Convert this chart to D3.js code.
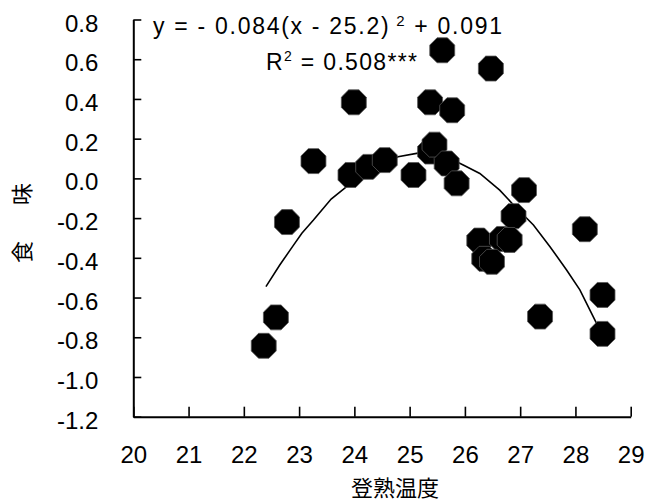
<!DOCTYPE html>
<html>
<head>
<meta charset="utf-8">
<script src="https://cdn.jsdelivr.net/npm/d3@7"></script>
<style>
  body { margin: 0; background: #fff; }
  text { font-family: "Liberation Sans", Arial, sans-serif; fill: #000; }
  .cjk { font-family: "Noto Sans CJK JP", sans-serif; }
</style>
</head>
<body>
<div id="chart"></div>
<script>
// tick values
var xTicks = [20, 21, 22, 23, 24, 25, 26, 27, 28, 29];
var yTicks = [-1.2, -1.0, -0.8, -0.6, -0.4, -0.2, 0.0, 0.2, 0.4, 0.6, 0.8];

// observed points: ripening temperature vs taste
var temperature = [22.36, 22.58, 22.78, 23.26, 23.99, 23.93, 24.25, 24.55, 25.07, 25.37,
                   25.59, 25.77, 25.37, 25.45, 25.67, 25.85, 26.47, 27.07, 26.88, 26.26,
                   26.67, 26.81, 26.35, 26.49, 28.17, 28.49, 27.36, 28.49];
var taste = [-0.843, -0.70, -0.22, 0.087, 0.383, 0.017, 0.058, 0.092, 0.017, 0.383,
             0.645, 0.343, 0.135, 0.17, 0.075, -0.025, 0.553, -0.059, -0.19, -0.313,
             -0.305, -0.31, -0.405, -0.42, -0.256, -0.587, -0.696, -0.783];

// trend line
var trendX = [22.40, 22.65, 22.89, 23.05, 23.26, 23.58, 23.86, 24.21, 24.79, 25.15,
              25.55, 25.97, 26.27, 26.63, 26.88, 27.24, 27.54, 27.84, 28.08, 28.38];
var trendY = [-0.545, -0.436, -0.340, -0.276, -0.210, -0.104, -0.042, 0.027, 0.109, 0.127,
              0.125, 0.067, 0.025, -0.059, -0.134, -0.235, -0.344, -0.461, -0.561, -0.729];

var svgWidth = 646;
var svgHeight = 504;

var svg = d3.select("#chart")
  .append("svg")
  .attr("width", svgWidth)
  .attr("height", svgHeight);

var x = d3.scaleLinear().domain([20, 29]).range([133.3, 630.7]);
var y = d3.scaleLinear().domain([-1.2, 0.8]).range([416.7, 19.5]);

// x axis, ticks pointing up into the plot
var xAxis = svg.append("g")
  .attr("transform", "translate(0," + y(-1.2) + ")")
  .call(d3.axisBottom(x).tickValues(xTicks).tickSize(-10).tickPadding(29).tickSizeOuter(0)
    .tickFormat(d3.format("d")));

// y axis, ticks pointing right
var yAxis = svg.append("g")
  .attr("transform", "translate(" + x(20) + ",0)")
  .call(d3.axisLeft(y).tickValues(yTicks).tickSize(-8).tickPadding(35).tickSizeOuter(0)
    .tickFormat(function(d) { return d.toFixed(1); }));

[xAxis, yAxis].forEach(function(g) {
  g.select(".domain").attr("stroke", "#000").attr("stroke-width", 2);
  g.selectAll(".tick line").attr("stroke", "#000").attr("stroke-width", 1.6);
  g.selectAll(".tick text").attr("font-size", 24).attr("font-family", "Liberation Sans, Arial, sans-serif");
});
yAxis.selectAll(".tick text").attr("dy", "0.48em");

// trend line
var line = d3.line()
  .x(function(d, i) { return x(trendX[i]); })
  .y(function(d, i) { return y(trendY[i]); });

svg.append("path")
  .datum(trendX)
  .attr("d", line)
  .attr("fill", "none")
  .attr("stroke", "#000")
  .attr("stroke-width", 1.6);

// octagon markers
function octagon(r) {
  var pts = [];
  for (var k = 0; k < 8; k++) {
    var a = Math.PI / 8 + k * Math.PI / 4;
    pts.push([r * Math.cos(a), r * Math.sin(a)]);
  }
  return "M" + pts.join("L") + "Z";
}

svg.selectAll(".pt")
  .data(temperature)
  .enter()
  .append("path")
  .attr("class", "pt")
  .attr("transform", function(d, i) { return "translate(" + x(d) + "," + y(taste[i]) + ")"; })
  .attr("d", octagon(13.5))
  .attr("fill", "#000")
  .attr("stroke", "#555")
  .attr("stroke-width", 0.8);

// equation
var eq = svg.append("text")
  .attr("x", 153)
  .attr("y", 34)
  .attr("font-size", 23)
  .attr("textLength", 349)
  .attr("lengthAdjust", "spacing");
eq.append("tspan").text("y =  - 0.084(x - 25.2)");
eq.append("tspan").attr("dy", -8).attr("font-size", 15).text(" 2");
eq.append("tspan").attr("dy", 8).text(" + 0.091");

var r2 = svg.append("text")
  .attr("x", 266)
  .attr("y", 70)
  .attr("font-size", 23)
  .attr("textLength", 151)
  .attr("lengthAdjust", "spacing");
r2.append("tspan").text("R");
r2.append("tspan").attr("dy", -9).attr("font-size", 14).text("2");
r2.append("tspan").attr("dy", 9).text(" = 0.508***");

// axis titles
svg.append("text")
  .attr("class", "cjk")
  .attr("x", 395)
  .attr("y", 496)
  .attr("text-anchor", "middle")
  .attr("font-size", 22)
  .text("登熟温度");

var yTitle = svg.append("text")
  .attr("class", "cjk")
  .attr("transform", "translate(30,0) rotate(-90)")
  .attr("x", -263)
  .attr("y", 0)
  .attr("font-size", 22);
yTitle.append("tspan").text("食");
yTitle.append("tspan").attr("dx", 36).text("味");
</script>
</body>
</html>
